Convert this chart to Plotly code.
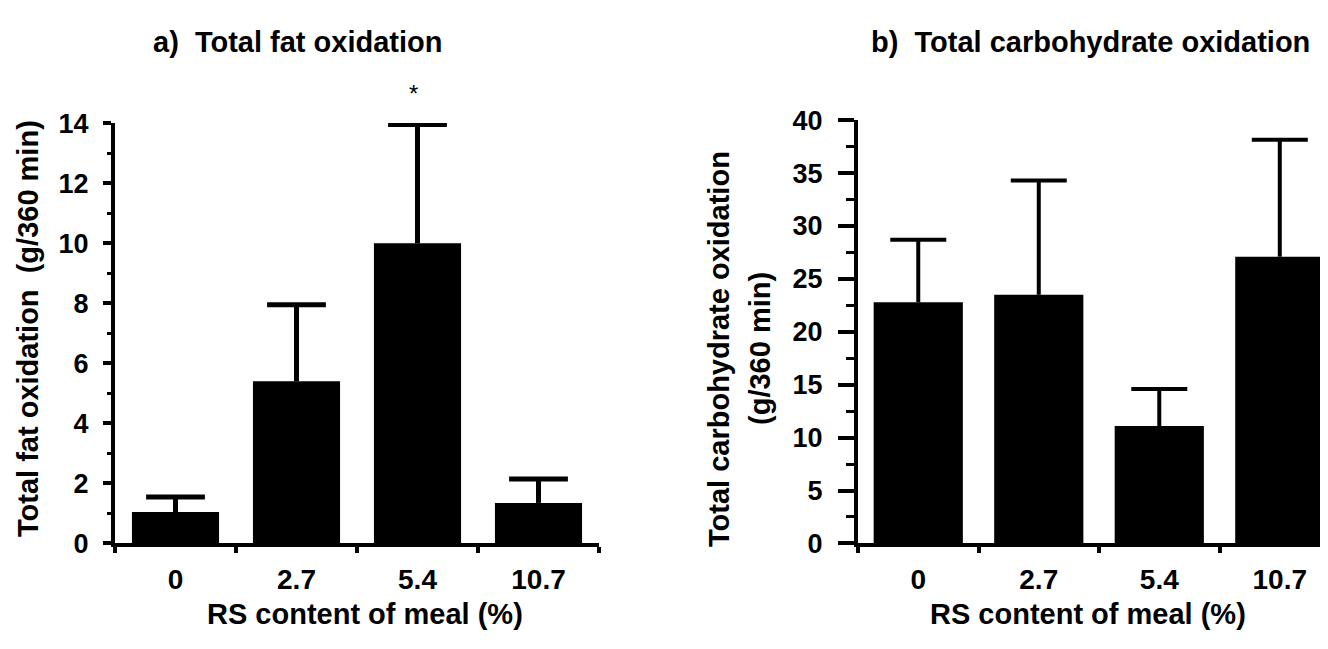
import plotly.graph_objects as go

doses = ["0", "2.7", "5.4", "10.7"]
fat_mean = [1.05, 5.4, 10.0, 1.35]
fat_sem = [0.5, 2.55, 3.95, 0.8]
cho_mean = [22.8, 23.5, 11.1, 27.1]
cho_sem = [5.9, 10.8, 3.5, 11.05]

# page body has an 8px margin: size the figure so it exactly fills the window
OFF = 8
W, H = 1328 - OFF, 649 - OFF
FONT = "Liberation Sans, Arial, Helvetica, sans-serif"


def px(x):
    return (x - OFF) / W


def py(y):
    return 1 - (y - OFF) / H


fig = go.Figure()
fig.add_trace(go.Bar(
    x=doses, y=fat_mean, width=0.72, marker=dict(color="black", line=dict(width=0)),
    error_y=dict(type="data", symmetric=False, array=fat_sem, arrayminus=[0] * 4,
                 color="black", thickness=5, width=0),
    xaxis="x", yaxis="y", showlegend=False, hoverinfo="skip"))
fig.add_trace(go.Scatter(
    x=doses, y=[m + s for m, s in zip(fat_mean, fat_sem)], mode="markers",
    marker=dict(symbol="line-ew", size=42, color="black", line=dict(color="black", width=5)),
    xaxis="x", yaxis="y", showlegend=False, hoverinfo="skip"))
fig.add_trace(go.Bar(
    x=doses, y=cho_mean, width=0.74, marker=dict(color="black", line=dict(width=0)),
    error_y=dict(type="data", symmetric=False, array=cho_sem, arrayminus=[0] * 4,
                 color="black", thickness=4, width=0),
    xaxis="x2", yaxis="y2", showlegend=False, hoverinfo="skip"))
fig.add_trace(go.Scatter(
    x=doses, y=[m + s for m, s in zip(cho_mean, cho_sem)], mode="markers",
    marker=dict(symbol="line-ew", size=40, color="black", line=dict(color="black", width=4)),
    xaxis="x2", yaxis="y2", showlegend=False, hoverinfo="skip"))

ytickfont = dict(family=FONT, size=27, color="black", weight="bold")
xtickfont = dict(family=FONT, size=28, color="black", weight="bold")
common_x = dict(type="category", showline=True, linewidth=4, linecolor="black",
                ticks="outside", ticklen=6, tickwidth=4, tickcolor="black",
                tickson="boundaries", showgrid=False, zeroline=False,
                tickfont=xtickfont, ticklabelstandoff=8, fixedrange=True,
                categoryorder="array", categoryarray=doses)
common_y = dict(showline=True, linewidth=4, linecolor="black", ticks="outside",
                tickwidth=4, tickcolor="black", showgrid=False, zeroline=False,
                tickfont=ytickfont, fixedrange=True)

fig.update_layout(
    width=W, height=H, margin=dict(l=0, r=0, t=0, b=0),
    paper_bgcolor="white", plot_bgcolor="white",
    xaxis=dict(domain=[px(115), px(599)], anchor="y", range=[-0.5, 3.5], **common_x),
    yaxis=dict(domain=[py(554), py(113)], anchor="x", range=[0, 14],
               tickvals=[0, 2, 4, 6, 8, 10, 12, 14], ticklen=8, ticklabelstandoff=9,
               minor=dict(dtick=1, tick0=0, ticks="outside", ticklen=4, tickwidth=3, tickcolor="black"),
               **common_y),
    xaxis2=dict(domain=[px(858), 1.0], anchor="y2", range=[-0.5, 3.4], **common_x),
    yaxis2=dict(domain=[py(554), py(110)], anchor="x2", range=[0, 40],
                tickvals=[0, 5, 10, 15, 20, 25, 30, 35, 40], ticklen=16, ticklabelstandoff=10,
                minor=dict(dtick=2.5, tick0=0, ticks="outside", ticklen=8, tickwidth=3, tickcolor="black"),
                **common_y),
)

bold = lambda s: dict(family=FONT, size=s, color="black", weight="bold")
ann = [
    dict(text="a)  Total fat oxidation", x=px(297), y=py(28), font=bold(29)),
    dict(text="b)  Total carbohydrate oxidation", x=px(1090), y=py(28), font=bold(29)),
    dict(text="*", x=px(413), y=py(82), font=dict(family=FONT, size=24, color="black")),
    dict(text="RS content of meal (%)", x=px(365), y=py(628), font=bold(29)),
    dict(text="RS content of meal (%)", x=px(1088), y=py(628), font=bold(29)),
    dict(text="Total fat oxidation  (g/360 min)", x=px(28), y=py(329), textangle=-90, font=bold(29)),
    dict(text="Total carbohydrate oxidation", x=px(719), y=py(350), textangle=-90, font=bold(29)),
    dict(text="(g/360 min)", x=px(760), y=py(350), textangle=-90, font=bold(29)),
]
for a in ann:
    a.update(xref="paper", yref="paper", showarrow=False, xanchor="center", yanchor="middle")
fig.update_layout(annotations=ann)

fig.write_html("out.html")
